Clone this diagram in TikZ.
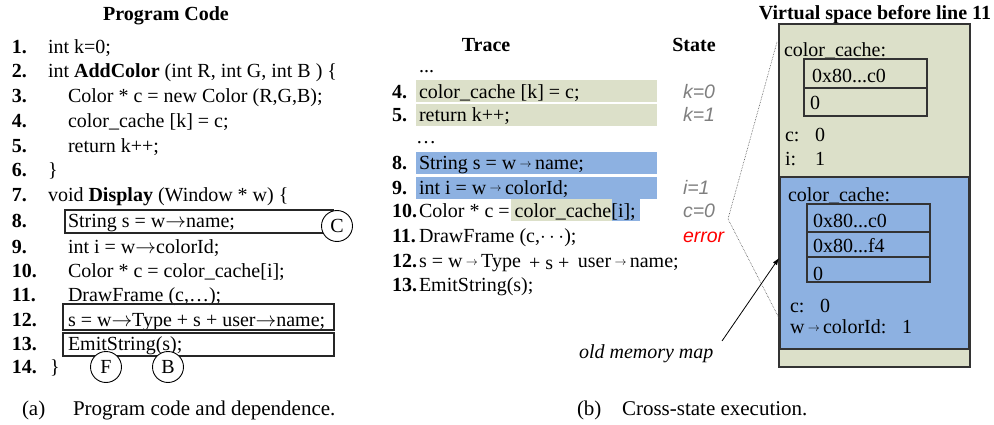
\documentclass[tikz,border=0pt]{standalone}
\usepackage{fontspec}
\setmainfont{Liberation Serif}
\newfontfamily\sansfam{Liberation Sans}
\usetikzlibrary{arrows.meta}
\definecolor{olivebg}{HTML}{DCE0C9}
\definecolor{bluebg}{HTML}{8DB1E1}
\definecolor{stategray}{HTML}{7F7F7F}
\definecolor{memline}{HTML}{333333}
\newcommand{\sarr}{\,{\fontsize{13}{13}\selectfont\raisebox{2pt}{$\rightarrow$}}\,}
\newcommand{\larr}{$\rightarrow$}
\begin{document}
\begin{tikzpicture}[x=1pt,y=-1pt,
  every node/.style={inner sep=0pt,outer sep=0pt,font=\fontsize{20}{24}\selectfont},
  txt/.style={anchor=base west},
  num/.style={anchor=base west,font=\fontsize{20}{24}\selectfont\bfseries},
  hdr/.style={anchor=base,font=\fontsize{20}{24}\selectfont\bfseries},
  st/.style={anchor=base west,text=stategray,font=\fontsize{19.5}{24}\selectfont\sansfam\itshape},
  codebox/.style={draw=black!85,line width=1.1pt},
  circ/.style={circle,draw,fill=white,line width=0.9pt,minimum size=31pt},
  hlg/.style={fill=olivebg,draw=none},
  hlb/.style={fill=bluebg,draw=none},
  mem/.style={draw=memline,line width=1.4pt},
  captxt/.style={anchor=base west,font=\fontsize{21}{24}\selectfont},
  zoomline/.style={densely dotted,line width=0.6pt,black!70}]
\useasboundingbox (0,0) rectangle (994,425);

% ---------------- (a) Program code ----------------
\node[hdr] (phdr) at (166,21) {Program Code};
\node[num] (n1) at (12,54) {1.};   \node[txt] (c1) at (48,54) {int k=0;};
\node[num] (n2) at (12,78) {2.};   \node[txt] (c2) at (48,78) {int \textbf{AddColor} (int R, int G, int B ) \{};
\node[num] (n3) at (12,103) {3.};  \node[txt] (c3) at (68,103) {Color * c = new Color (R,G,B);};
\node[num] (n4) at (12,128) {4.};  \node[txt] (c4) at (68,128) {color\_cache [k] = c;};
\node[num] (n5) at (12,153) {5.};  \node[txt] (c5) at (68,153) {return k++;};
\node[num] (n6) at (12,177) {6.};  \node[txt] (c6) at (48,177) {\}};
\node[num] (n7) at (12,202) {7.};  \node[txt] (c7) at (48,202) {void \textbf{Display} (Window * w) \{};
\node[num] (n8) at (12,228) {8.};  \node[txt] (c8) at (68,228) {String s = w\larr name;};
\node[num] (n9) at (12,253) {9.};  \node[txt] (c9) at (68,253) {int i = w\larr colorId;};
\node[num] (n10) at (12,277) {10.}; \node[txt] (c10) at (68,277) {Color * c = color\_cache[i];};
\node[num] (n11) at (12,301) {11.}; \node[txt] (c11) at (68,301) {DrawFrame (c,…);};
\node[num] (n12) at (12,326) {12.}; \node[txt] (c12) at (68,326) {s = w\larr Type + s + user\larr name;};
\node[num] (n13) at (12,350) {13.}; \node[txt] (c13) at (68,350) {EmitString(s);};
\node[num] (n14) at (12,373) {14.}; \node[txt] (c14) at (50,373) {\}};

\draw[codebox] (65,210) rectangle (333,233);
\draw[codebox] (63,304) rectangle (334,330);
\draw[codebox] (63,333) rectangle (334,356);
\node[circ] (circC) at (337,226) {C};
\node[circ] (circF) at (106,367) {F};
\node[circ] (circB) at (168,367) {B};

\node[captxt] (capa1) at (22,415) {(a)};
\node[captxt] (capa2) at (73,415) {Program code and dependence.};

% ---------------- (b) Trace ----------------
\node[hdr] (thdr) at (486,52) {Trace};
\node[hdr] (shdr) at (694,52) {State};

\fill[hlg] (416,80) rectangle (657,102);
\fill[hlg] (416,104) rectangle (657,126);
\fill[hlb] (416,152) rectangle (657,174);
\fill[hlb] (416,177) rectangle (657,199);
\fill[hlg] (511,199) rectangle (612,221);
\fill[hlb] (612,199) rectangle (640,221);

\node[txt] (tdots1) at (419,73) {...};
\node[num] (t4n) at (392,99) {4.};  \node[txt] (t4) at (419,99) {color\_cache [k] = c;};
\node[num] (t5n) at (392,122) {5.}; \node[txt] (t5) at (419,122) {return k++;};
\node[txt] (tdots2) at (416,144) {…};
\node[num] (t8n) at (392,170) {8.}; \node[txt] (t8) at (419,170) {String s = w\sarr name;};
\node[num] (t9n) at (392,194) {9.}; \node[txt] (t9) at (419,194) {int i = w\sarr colorId;};
\node[num] (t10n) at (392,218) {10.}; \node[txt] (t10) at (419,218) {Color * c = color\_cache[i];};
\node[num] (t11n) at (392,243) {11.}; \node[txt] (t11) at (419,243) {DrawFrame (c,$\cdots$);};
\node[num] (t12n) at (392,267) {12.}; \node[txt] (t12) at (419,267) {s = w\sarr Type\, \raisebox{-2.5pt}{+ s +}\, user\sarr name;};
\node[num] (t13n) at (392,291) {13.}; \node[txt] (t13) at (419,291) {EmitString(s);};

\node[st] (s4) at (683,99) {k=0};
\node[st] (s5) at (683,122) {k=1};
\node[st] (s9) at (683,194) {i=1};
\node[st] (s10) at (683,218) {c=0};
\node[st,text=red] (s11) at (683,243) {error};

% ---------------- Virtual space ----------------
\node[hdr] (vhdr) at (875,20) {Virtual space before line 11};
\fill[olivebg] (779,24) rectangle (970,367);
\fill[bluebg] (780,177) rectangle (969,349);
\draw[mem] (779,24) rectangle (970,367);
\draw[mem] (780,177) rectangle (969,349);

\node[txt] (m1) at (784,57) {color\_cache:};
\draw[mem,line width=1.1pt] (804,59) rectangle (927,116);
\draw[mem,line width=1.1pt] (804,88) -- (927,88);
\node[txt] (m2) at (812,83) {0x80...c0};
\node[txt] (m3) at (810,110) {0};
\node[txt] (m4) at (785,142) {c:};  \node[txt] (m5) at (815,142) {0};
\node[txt] (m6) at (785,166) {i:};  \node[txt] (m7) at (815,166) {1};

\node[txt] (b1) at (788,202) {color\_cache:};
\draw[mem,line width=1.1pt] (807,204) rectangle (930,282);
\draw[mem,line width=1.1pt] (807,232) -- (930,232);
\draw[mem,line width=1.1pt] (807,257) -- (930,257);
\node[txt] (b2) at (813,228) {0x80...c0};
\node[txt] (b3) at (813,252) {0x80...f4};
\node[txt] (b4) at (813,280) {0};
\node[txt] (b5) at (790,312) {c:};  \node[txt] (b6) at (820,312) {0};
\node[txt] (b7) at (790,333) {w\sarr colorId:};  \node[txt] (b8) at (902,333) {1};

% zoom lines
\coordinate (apex) at (728,219);
\coordinate (ztop) at (777,42);
\coordinate (zbot) at (779,318);
\draw[zoomline] (ztop) -- (apex) -- (zbot);

% old memory map arrow
\node[anchor=base west,font=\fontsize{20}{24}\selectfont\itshape] (omm) at (579,358) {old memory map};
\coordinate (arrS) at (722,341);
\coordinate (arrE) at (779,258);
\draw[line width=0.8pt,-{Latex[length=7pt,width=5pt]}] (arrS) -- (arrE);

\node[captxt] (capb1) at (577,415) {(b)};
\node[captxt] (capb2) at (622,415) {Cross-state execution.};
\end{tikzpicture}
\end{document}
